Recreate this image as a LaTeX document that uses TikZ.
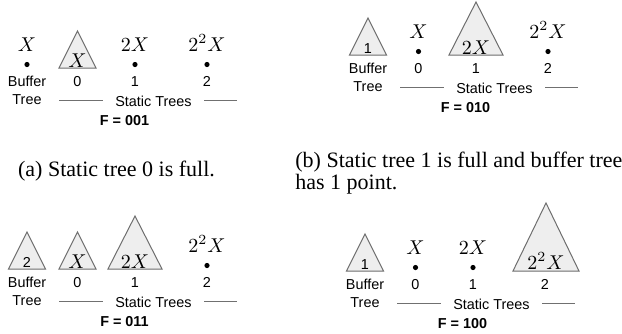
\documentclass[tikz,border=0pt]{standalone}
\usepackage[no-math]{fontspec}
\setmainfont{Liberation Serif}
\setsansfont{Liberation Sans}
\definecolor{Leaf}{HTML}{EEEEEE}
\definecolor{Bark}{HTML}{6E6E6E}
\definecolor{Rule}{HTML}{707070}

\begin{document}
\begin{tikzpicture}[
    x=0.5pt, y=-0.5pt,
    tri/.style={draw=Bark, fill=Leaf, line width=0.5pt},
    dot/.style={circle, fill=black, inner sep=0pt, minimum size=2.6pt},
    size/.style={inner sep=0pt, anchor=base, font=\fontsize{10}{12}\selectfont},
    lbl/.style={inner sep=0pt, anchor=base, font=\sffamily\fontsize{7.2}{8.6}\selectfont},
    flag/.style={lbl, font=\sffamily\bfseries\fontsize{7.2}{8.6}\selectfont},
    subcap/.style={inner sep=0pt, font=\fontsize{11}{11}\selectfont}
  ]
  \useasboundingbox (0,0) rectangle (622,333);

  % row labels, the same in every panel
  \foreach \p/\bx/\by/\f in {a/27/81/001, b/368/68/010, c/27/282/011, d/365/284/100}{
    \begin{scope}[shift={(\bx,\by)}]
      \node[lbl] (\p-buf) at (0,5) {Buffer};
      \node[lbl] (\p-tree) at (0,23) {Tree};
      \node[lbl] (\p-n0) at (50.5,5) {0};
      \node[lbl] (\p-n1) at (108,5) {1};
      \node[lbl] (\p-n2) at (180,5) {2};
      \node[lbl] (\p-st) at (126.5,25) {Static Trees};
      \draw[Rule] ([xshift=-6pt]\p-st.west) -- ++(-44,0);
      \draw[Rule] ([xshift=6pt]\p-st.east) -- ++(33,0);
      \node[flag] (\p-f) at (97.5,44) {F = \f};
    \end{scope}
  }

  % (a)
  \begin{scope}[shift={(27,81)}]
    \node[size] (a-xb) at (0,-30) {$X$};
    \node[dot] (a-db) at (0,-16.5) {};
    \draw[tri] (32,-13) -- (50.5,-50) -- (69,-13) -- cycle;
    \node[size] (a-t0) at (50.5,-14) {$X$};
    \node[size] (a-x1) at (108,-30) {$2X$};
    \node[dot] (a-d1) at (108,-16.5) {};
    \node[size] (a-x2) at (180,-30) {$2^2X$};
    \node[dot] (a-d2) at (180,-16.5) {};
  \end{scope}

  % (b)
  \begin{scope}[shift={(368,68)}]
    \draw[tri] (-18.5,-13) -- (0,-50) -- (18.5,-13) -- cycle;
    \node[lbl] (b-tb) at (0,-15) {1};
    \node[size] (b-x0) at (50.5,-30) {$X$};
    \node[dot] (b-d0) at (50.5,-16.5) {};
    \draw[tri] (81,-13) -- (108,-66) -- (135,-13) -- cycle;
    \node[size] (b-t1) at (108,-14) {$2X$};
    \node[size] (b-x2) at (180,-30) {$2^2X$};
    \node[dot] (b-d2) at (180,-16.5) {};
  \end{scope}

  % (c)
  \begin{scope}[shift={(27,282)}]
    \draw[tri] (-18.5,-13) -- (0,-50) -- (18.5,-13) -- cycle;
    \node[lbl] (c-tb) at (0,-15) {2};
    \draw[tri] (32,-13) -- (50.5,-50) -- (69,-13) -- cycle;
    \node[size] (c-t0) at (50.5,-14) {$X$};
    \draw[tri] (81,-13) -- (108,-66) -- (135,-13) -- cycle;
    \node[size] (c-t1) at (108,-14) {$2X$};
    \node[size] (c-x2) at (180,-30) {$2^2X$};
    \node[dot] (c-d2) at (180,-16.5) {};
  \end{scope}

  % (d)
  \begin{scope}[shift={(365,284)}]
    \draw[tri] (-18.5,-13) -- (0,-50) -- (18.5,-13) -- cycle;
    \node[lbl] (d-tb) at (0,-15) {1};
    \node[size] (d-x0) at (50.5,-30) {$X$};
    \node[dot] (d-d0) at (50.5,-16.5) {};
    \node[size] (d-x1) at (108,-30) {$2X$};
    \node[dot] (d-d1) at (108,-16.5) {};
    \draw[tri] (148,-13) -- (181,-81) -- (214,-13) -- cycle;
    \node[size] (d-t2) at (181,-15) {$2^2X$};
  \end{scope}

  % captions
  \node[subcap, anchor=base] (a-cap) at (116.5,176) {(a) Static tree 0 is full.};
  \node[subcap, anchor=north west, align=left] (b-cap) at (295,152)
    {(b) Static tree 1 is full and buffer tree\\has 1 point.};
\end{tikzpicture}
\end{document}
